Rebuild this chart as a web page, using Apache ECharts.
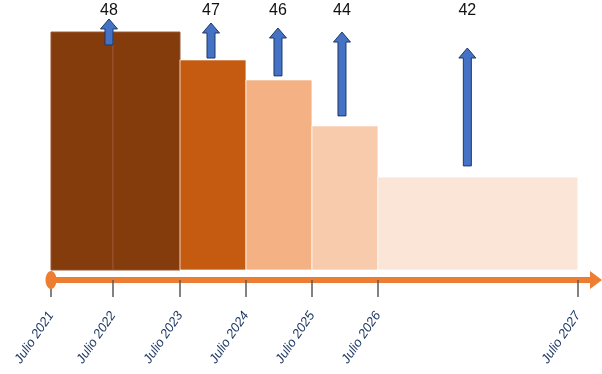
<!DOCTYPE html>
<html>
<head>
<meta charset="utf-8">
<script src="https://cdn.jsdelivr.net/npm/echarts@6/dist/echarts.min.js"></script>
<style>html,body{margin:0;padding:0;background:#fff}#c{width:602px;height:374px}</style>
</head>
<body>
<div id="c"></div>
<script>
// Timeline tick labels and their positions on the (non-uniform) timeline scale
const tickLabels = ['Julio 2021','Julio 2022','Julio 2023','Julio 2024','Julio 2025','Julio 2026','Julio 2027'];
const tickPos = [0, 0.94, 1.955, 2.955, 3.955, 4.955, 7.985];
const timelineEnd = 8.26;
// Block heights for each period (between consecutive ticks)
const blockHeights = [99.9, 99.9, 88.2, 79.8, 60.5, 39.0];
// Arrows: x position, base level, tip level, label
const arrowX = [0.879, 2.425, 3.44, 4.41, 6.31];
const arrowBase = [94.5, 89.0, 81.5, 64.7, 43.7];
const arrowTip = [105.4, 103.7, 101.6, 99.9, 93.2];
const arrowLabels = [48, 47, 46, 44, 42];
const labelLevel = 108.9;

const blockColors = ['#843C0C','#843C0C','#C55A11','#F4B183','#F8CBAD','#FBE5D6'];

const blockData = blockHeights.map((h, i) => [tickPos[i], tickPos[i+1], h]);
const arrowData = arrowX.map((x, i) => [x, arrowBase[i], arrowTip[i], arrowLabels[i]]);

function renderBlock(params, api) {
  const p0 = api.coord([api.value(0), api.value(2)]);
  const p1 = api.coord([api.value(1), 0]);
  const dark = params.dataIndex < 2;
  return {
    type: 'rect',
    shape: {x: p0[0], y: p0[1], width: p1[0]-p0[0], height: p1[1]-p0[1]},
    style: {fill: blockColors[params.dataIndex], stroke: dark ? '#9A5530' : 'rgba(255,255,255,0.7)', lineWidth: 1}
  };
}

function renderArrow(params, api) {
  const x = api.value(0);
  const b = api.coord([x, api.value(1)]);
  const t = api.coord([x, api.value(2)]);
  const sw = 4, hw = 8.5, hl = 10;
  const cx = b[0];
  const points = [
    [cx-sw, b[1]], [cx-sw, t[1]+hl], [cx-hw, t[1]+hl], [cx, t[1]],
    [cx+hw, t[1]+hl], [cx+sw, t[1]+hl], [cx+sw, b[1]]
  ];
  const lp = api.coord([x, labelLevel]);
  return {
    type: 'group',
    children: [
      {type: 'polygon', shape: {points}, style: {fill: '#4472C4', stroke: '#1F3864', lineWidth: 1}},
      {type: 'text', x: lp[0], y: lp[1], style: {text: String(api.value(3)), fill: '#111', font: '16px "Liberation Sans", Arial, sans-serif', align: 'center', verticalAlign: 'middle'}}
    ]
  };
}

// Timeline ends: oval at the start, triangular arrowhead at the end
function renderTimelineEnds(params, api) {
  const s = api.coord([api.value(0), 0]);
  const e = api.coord([api.value(1), 0]);
  const y = s[1] + 10;
  return {
    type: 'group',
    children: [
      {type: 'ellipse', shape: {cx: s[0], cy: y, rx: 5.5, ry: 9}, style: {fill: '#ED7D31'}},
      {type: 'polygon', shape: {points: [[e[0]-6, y-9], [e[0]+6, y], [e[0]-6, y+9]]}, style: {fill: '#ED7D31'}}
    ]
  };
}

const chart = echarts.init(document.getElementById('c'), null, {renderer: 'canvas'});
chart.setOption({
  animation: false,
  grid: {left: 51, right: 6, top: 8, bottom: 104},
  xAxis: {
    type: 'value', min: 0, max: timelineEnd, offset: 10,
    splitLine: {show: false},
    axisLine: {show: true, onZero: false, lineStyle: {color: '#ED7D31', width: 6}},
    axisTick: {show: true, customValues: tickPos, length: 17, lineStyle: {color: '#595959', width: 1.5}},
    axisLabel: {show: true, customValues: tickPos, rotate: 56, margin: 33,
      color: '#1F3864', fontStyle: 'italic', fontSize: 13, fontFamily: 'Liberation Sans, Arial, sans-serif',
      formatter: function (v) { const i = tickPos.findIndex(p => Math.abs(p - v) < 1e-6); return i >= 0 ? tickLabels[i] : ''; }
    }
  },
  yAxis: {type: 'value', min: 0, max: 110, show: false},
  series: [
    {type: 'custom', renderItem: renderBlock, data: blockData, encode: {x: [0, 1], y: 2}},
    {type: 'custom', renderItem: renderArrow, data: arrowData, encode: {x: 0, y: [1, 2]}},
    {type: 'custom', renderItem: renderTimelineEnds, data: [[tickPos[0], timelineEnd]], encode: {x: [0, 1]}, z: 10}
  ]
});
</script>
</body>
</html>
